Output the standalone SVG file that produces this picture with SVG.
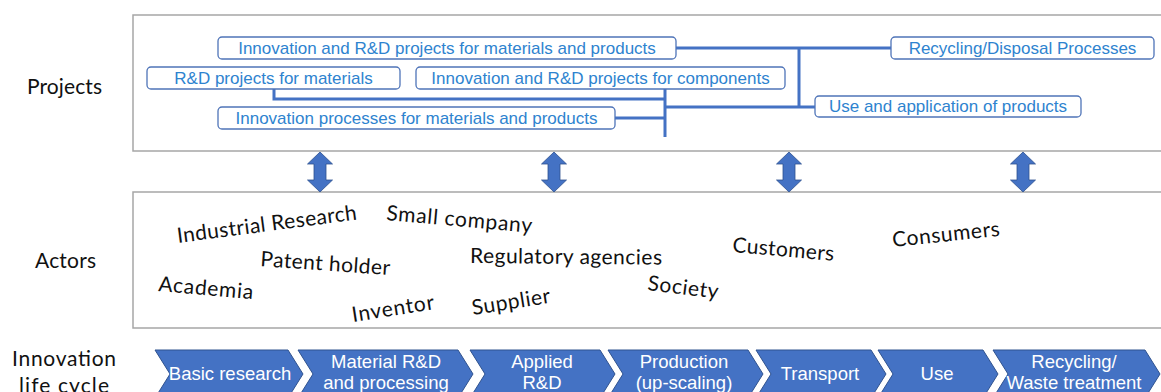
<svg xmlns="http://www.w3.org/2000/svg" width="1161" height="392" viewBox="0 0 1161 392">
<style>
.frame{fill:#fff;stroke:#A6A6A6;stroke-width:1.5}
.pbox{fill:#fff;stroke:#4F74B8;stroke-width:1.3}
.ptxt{font-family:"Liberation Sans",Arial,sans-serif;font-size:17px;fill:#2E83CF;text-anchor:middle}
.conn{fill:none;stroke:#4472C4;stroke-width:3}
.darr{fill:#4472C4;stroke:#2F528F;stroke-width:0.8}
.lbl{font-family:Lato,"Open Sans",sans-serif;font-size:21px;fill:#111}
.actor{font-family:Lato,"Open Sans",sans-serif;font-size:21px;fill:#111}
.chev{fill:#4472C4;stroke:#2F528F;stroke-width:1}
.ctxt{font-family:"Liberation Sans",Arial,sans-serif;font-size:18.5px;fill:#fff;text-anchor:middle}
</style>
<rect width="1161" height="392" fill="#fff"/>
<rect class="frame" x="133" y="15" width="1040" height="136"/>
<rect class="frame" x="133" y="192" width="1040" height="136"/>
<g id="labels">
<text class="lbl" x="27" y="94" textLength="75">Projects</text>
<text class="lbl" x="35" y="268" textLength="61">Actors</text>
<text class="lbl" x="12" y="366" textLength="104">Innovation</text>
<text class="lbl" x="19" y="393" textLength="90">life cycle</text>
</g>
<g id="connectors">
<path class="conn" d="M676 48H891M799 48V107M274 89V99H665M665 89V137M615 118H665M665 107H815"/>
</g>
<g id="p1"><rect class="pbox" x="218" y="37" width="458" height="22" rx="4"/><text class="ptxt" x="447" y="54">Innovation and R&amp;D projects for materials and products</text></g>
<g id="p2"><rect class="pbox" x="147" y="67" width="253" height="22" rx="4"/><text class="ptxt" x="273.5" y="84">R&amp;D projects for materials</text></g>
<g id="p3"><rect class="pbox" x="416" y="67" width="369" height="22" rx="4"/><text class="ptxt" x="600.5" y="84">Innovation and R&amp;D projects for components</text></g>
<g id="p4"><rect class="pbox" x="218" y="107" width="397" height="22" rx="4"/><text class="ptxt" x="416.5" y="124">Innovation processes for materials and products</text></g>
<g id="p5"><rect class="pbox" x="891" y="37" width="263" height="22" rx="4"/><text class="ptxt" x="1022.5" y="54">Recycling/Disposal Processes</text></g>
<g id="p6"><rect class="pbox" x="815" y="96" width="266" height="21" rx="4"/><text class="ptxt" x="948" y="112">Use and application of products</text></g>
<g id="arrows">
<path class="darr" d="M320 152L332.5 164H326V180H332.5L320 192L307.5 180H314V164H307.5Z"/>
<path class="darr" d="M554 152L566.5 164H560V180H566.5L554 192L541.5 180H548V164H541.5Z"/>
<path class="darr" d="M789 152L801.5 164H795V180H801.5L789 192L776.5 180H783V164H776.5Z"/>
<path class="darr" d="M1023 152L1035.5 164H1029V180H1035.5L1023 192L1010.5 180H1017V164H1010.5Z"/>
</g>
<g id="actors">
<text class="actor" transform="translate(178,243) rotate(-7.5)" textLength="181">Industrial Research</text>
<text class="actor" transform="translate(386,220) rotate(5)" textLength="146">Small company</text>
<text class="actor" transform="translate(260,266) rotate(4)" textLength="130">Patent holder</text>
<text class="actor" transform="translate(470,263) rotate(0.5)" textLength="192">Regulatory agencies</text>
<text class="actor" transform="translate(158,291) rotate(5)" textLength="95">Academia</text>
<text class="actor" transform="translate(353,322) rotate(-9)" textLength="83">Inventor</text>
<text class="actor" transform="translate(473,315) rotate(-9)" textLength="79">Supplier</text>
<text class="actor" transform="translate(647,290) rotate(7)" textLength="71">Society</text>
<text class="actor" transform="translate(732,252) rotate(5)" textLength="102">Customers</text>
<text class="actor" transform="translate(893,247) rotate(-6)" textLength="108">Consumers</text>
</g>
<g id="lifecycle">
<g id="c1"><path class="chev" d="M155 350H288L303 374L288 398H155L170 374Z"/><text class="ctxt" x="230" y="380">Basic research</text></g>
<g id="c2"><path class="chev" d="M298 350H458L473 374L458 398H298L313 374Z"/><text class="ctxt" x="386" y="368">Material R&amp;D</text><text class="ctxt" x="386" y="389">and processing</text></g>
<g id="c3"><path class="chev" d="M470 350H600L615 374L600 398H470L485 374Z"/><text class="ctxt" x="542" y="368">Applied</text><text class="ctxt" x="542" y="389">R&amp;D</text></g>
<g id="c4"><path class="chev" d="M608 350H748L763 374L748 398H608L623 374Z"/><text class="ctxt" x="684" y="368">Production</text><text class="ctxt" x="684" y="389">(up-scaling)</text></g>
<g id="c5"><path class="chev" d="M756 350H871L886 374L871 398H756L771 374Z"/><text class="ctxt" x="820" y="380">Transport</text></g>
<g id="c6"><path class="chev" d="M878 350H983L998 374L983 398H878L893 374Z"/><text class="ctxt" x="937" y="380">Use</text></g>
<g id="c7"><path class="chev" d="M993 350H1145L1160 374L1145 398H993L1008 374Z"/><text class="ctxt" x="1074" y="368">Recycling/</text><text class="ctxt" x="1074" y="389">Waste treatment</text></g>
</g>
</svg>
